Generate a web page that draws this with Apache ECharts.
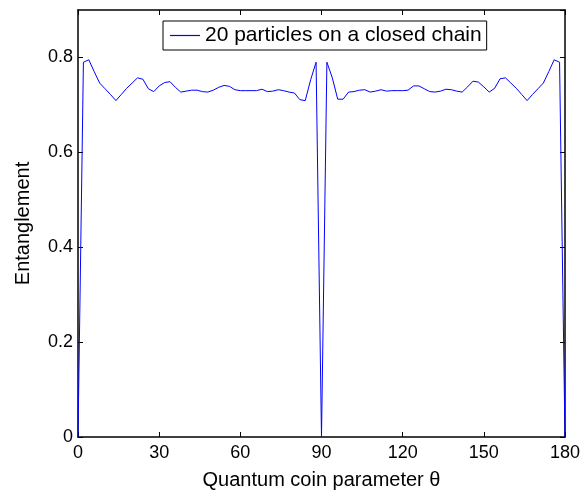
<!DOCTYPE html>
<html>
<head>
<meta charset="utf-8">
<script src="https://cdn.jsdelivr.net/npm/echarts@6/dist/echarts.min.js"></script>
<style>
  html, body { margin: 0; padding: 0; background: #fff; }
  #root { width: 583px; height: 495px; }
</style>
</head>
<body>
<div id="root"></div>
<script>
// theta in degrees, step 2
const theta = [];
for (let t = 0; t <= 180; t += 2) theta.push(t);

const entanglement = [
  0, 0.790, 0.795, 0.770, 0.746, 0.734, 0.722, 0.709, 0.722, 0.735,
  0.746, 0.757, 0.754, 0.734, 0.728, 0.740, 0.747, 0.749, 0.737, 0.727,
  0.729, 0.731, 0.731, 0.728, 0.727, 0.731, 0.737, 0.741, 0.739, 0.732,
  0.730, 0.730, 0.730, 0.730, 0.733, 0.728, 0.729, 0.732, 0.730, 0.727,
  0.725, 0.711, 0.709, 0.753, 0.790, 0, 0.790, 0.757, 0.712, 0.712,
  0.727, 0.728, 0.731, 0.732, 0.727, 0.729, 0.732, 0.729, 0.730, 0.730,
  0.730, 0.731, 0.740, 0.740, 0.734, 0.728, 0.727, 0.729, 0.733, 0.732,
  0.729, 0.727, 0.738, 0.750, 0.748, 0.738, 0.727, 0.735, 0.755, 0.757,
  0.746, 0.735, 0.722, 0.709, 0.722, 0.734, 0.746, 0.770, 0.795, 0.790,
  0
];

const seriesName = '20 particles on a closed chain';
const xLabel = 'Quantum coin parameter \u03b8';
const yLabel = 'Entanglement';

const font = 'Liberation Sans, Arial, Helvetica, sans-serif';
const chart = echarts.init(document.getElementById('root'));

const axisLine = { show: true, onZero: false, lineStyle: { color: '#000', width: 1.5 } };
const tickIn = { show: true, inside: true, length: 5, lineStyle: { color: '#000', width: 1 } };

const option = {
  animation: false,
  backgroundColor: '#fff',
  grid: { left: 78, right: 15, top: 10, bottom: 58, containLabel: false },
  legend: {
    left: 163, top: 21,
    backgroundColor: '#fff',
    borderColor: '#000', borderWidth: 1,
    padding: [4, 5, 4, 7],
    itemWidth: 30, itemHeight: 1.2,
    textStyle: { fontFamily: font, fontSize: 21, color: '#000' },
    data: [{ name: seriesName, icon: 'rect', itemStyle: { color: '#0000ff' } }]
  },
  xAxis: [{
    type: 'value', min: 0, max: 180, interval: 30,
    axisLine: axisLine, axisTick: tickIn, splitLine: { show: false },
    axisLabel: { color: '#000', fontFamily: font, fontSize: 18, margin: 7 },
    name: xLabel, nameLocation: 'middle', nameGap: 33,
    nameTextStyle: { color: '#000', fontFamily: font, fontSize: 20 }
  }, {
    type: 'value', min: 0, max: 180, interval: 30, position: 'top',
    axisLine: axisLine, axisTick: tickIn, splitLine: { show: false },
    axisLabel: { show: false }
  }],
  yAxis: [{
    type: 'value', min: 0, max: 0.9, interval: 0.2,
    axisLine: axisLine, axisTick: tickIn, splitLine: { show: false },
    axisLabel: { color: '#000', fontFamily: font, fontSize: 18, margin: 5, showMaxLabel: false },
    name: yLabel, nameLocation: 'middle', nameGap: 45,
    nameTextStyle: { color: '#000', fontFamily: font, fontSize: 20 }
  }, {
    type: 'value', min: 0, max: 0.9, interval: 0.2, position: 'right',
    axisLine: axisLine, axisTick: tickIn, splitLine: { show: false },
    axisLabel: { show: false }
  }],
  series: [{
    name: seriesName,
    type: 'line',
    data: theta.map((t, i) => [t, entanglement[i]]),
    symbol: 'none',
    lineStyle: { color: '#0000ff', width: 1 },
    itemStyle: { color: '#0000ff' }
  }]
};

chart.setOption(option);
</script>
</body>
</html>
